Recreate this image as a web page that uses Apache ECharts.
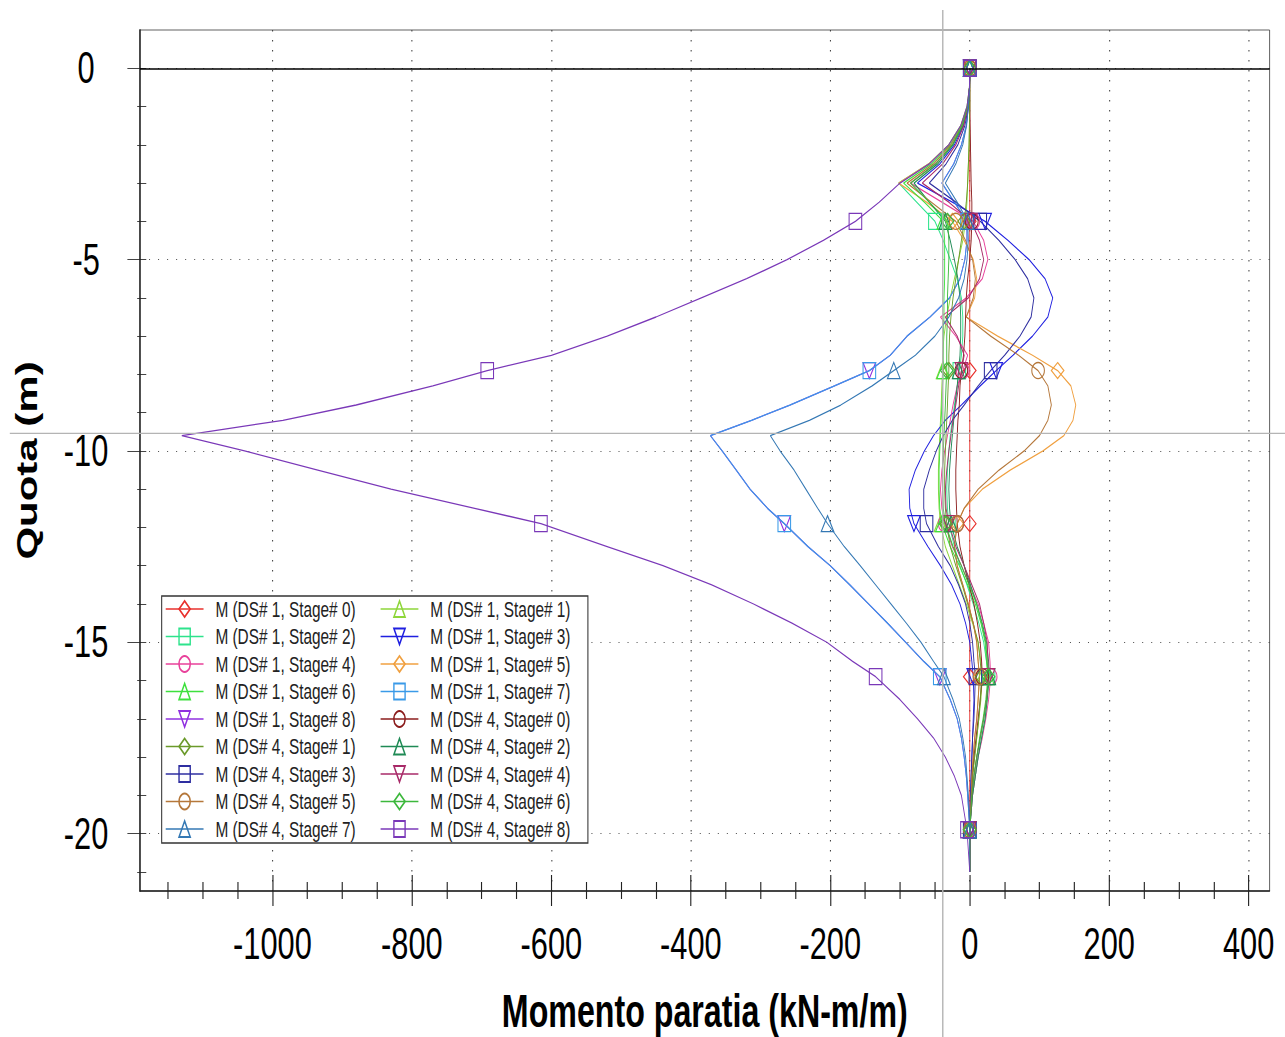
<!DOCTYPE html>
<html>
<head>
<meta charset="utf-8">
<title>Momento paratia</title>
<script src="https://cdn.jsdelivr.net/npm/echarts@6/dist/echarts.min.js"></script>
<style>
  html, body { margin: 0; padding: 0; background: #fff; overflow: hidden; }
  #wrap { width: 1285px; height: 1037px; overflow: hidden; }
  /* the reference picture is squeezed horizontally, so draw wide and squeeze */
  #chart { width: 1836px; height: 1037px; transform: scaleX(0.69989); transform-origin: 0 0; }
</style>
</head>
<body>
<div id="wrap"><div id="chart"></div></div>
<script>
// == Data ====================================================================

const depth = [0, -0.5, -1, -1.5, -2, -2.5, -3,
  -3.5, -4, -4.5, -5, -5.5, -6, -6.5, -7, -7.5,
  -7.9, -8.3, -8.8, -9.2, -9.6, -10, -10.5, -11, -11.5,
  -11.9, -12.5, -13, -13.5, -14, -14.5, -15, -15.5,
  -15.9, -16.5, -17, -17.5, -18, -18.5, -19, -19.9, -21]
const markerDepths = [0, -4, -7.9, -11.9, -15.9, -19.9]

const xMajor = [-1000, -800, -600, -400, -200, 0, 200, 400]
const yMajor = [0, -5, -10, -15, -20]
const cursor = [-38.7, -9.54]

const names = [
  'M (DS# 1, Stage# 0)', 'M (DS# 1, Stage# 1)', 'M (DS# 1, Stage# 2)', 'M (DS# 1, Stage# 3)',
  'M (DS# 1, Stage# 4)', 'M (DS# 1, Stage# 5)', 'M (DS# 1, Stage# 6)', 'M (DS# 1, Stage# 7)',
  'M (DS# 1, Stage# 8)', 'M (DS# 4, Stage# 0)', 'M (DS# 4, Stage# 1)', 'M (DS# 4, Stage# 2)',
  'M (DS# 4, Stage# 3)', 'M (DS# 4, Stage# 4)', 'M (DS# 4, Stage# 5)', 'M (DS# 4, Stage# 6)',
  'M (DS# 4, Stage# 7)', 'M (DS# 4, Stage# 8)'
]
const colors = [
  '#e8302c', '#8ed63a', '#2de38c', '#1f1fe0', '#e8409a', '#f0a040',
  '#3ee03e', '#3a9ae8', '#9030e0', '#8b1c1c', '#6b9a2a', '#1f8a55',
  '#2e2ea0', '#a82a68', '#b5773a', '#3cb83c', '#3478b4', '#7a38b8'
]

const ds1s0 = [0, 0, 0, 0, 0, 0, 0,
  0, 0, 0, 0, 0, 0, 0, 0, 0,
  0, 0, 0, 0, 0, 0, 0, 0, 0,
  0, 0, 0, 0, 0, 0, 0, 0,
  0, 0, 0, 0, 0, 0, 0, 0, 0]
const ds1s1 = [0, 0, 0, -0.5, -1, -2, -3,
  -4, -6, -10, -16, -22, -28, -33, -37, -39,
  -39, -40, -41, -42, -43, -44, -45, -45, -44,
  -42, -35, -25, -15, -5, 4, 12, 16,
  18, 16, 13, 10, 7, 4, 2, 0, 0]
const ds1s2 = [0, -0.5, -4, -13, -30, -59, -102,
  -76, -50, -38, -28, -18, -12, -10, -10, -12,
  -15, -18, -22, -25, -28, -30, -32, -33, -32,
  -30, -22, -14, -4, 5, 13, 20, 24,
  27, 25, 22, 17, 12, 8, 4, 0, 0]
const ds1s3 = [0, -0.3, -3, -9, -22, -43, -75,
  -25, 22, 55, 85, 108, 119, 112, 90, 62,
  38, 15, -12, -35, -52, -65, -78, -87, -86,
  -80, -60, -42, -26, -14, -6, 0, 3,
  5, 6, 5, 4, 3, 2, 1, 0, 0]
const ds1s4 = [0, -0.4, -3, -11, -25, -49, -85,
  -40, 5, 20, 26, 18, -5, -42, -20, -3,
  -10, -18, -24, -28, -32, -36, -40, -42, -40,
  -36, -25, -12, 0, 12, 20, 27, 29,
  30, 27, 23, 18, 12, 8, 4, 0, 0]
const ds1s5 = [0, -0.5, -4, -13, -30, -59, -102,
  -62, -25, -8, 5, 10, 7, -5, 40, 90,
  126, 145, 152, 148, 135, 105, 58, 18, -8,
  -18, -22, -18, -10, -2, 5, 10, 12,
  14, 12, 10, 7, 5, 3, 2, 0, 0]
const ds1s6 = [0, -0.4, -3.5, -12, -28, -55, -95,
  -65, -38, -36, -36, -36, -37, -37, -38, -38,
  -38, -39, -40, -41, -42, -43, -44, -44, -43,
  -40, -28, -15, -3, 8, 16, 22, 24,
  26, 23, 19, 14, 10, 6, 3, 0, 0]
const ds1s7 = [0, -0.2, -2, -5, -12, -23, -40,
  -22, -4, -4, -7, -14, -29, -57, -90, -114,
  -144, -194, -258, -313, -372, -355, -335, -315, -290,
  -266, -232, -200, -172, -145, -118, -92, -66,
  -43, -28, -18, -12, -8, -5, -3, 0, 0]
const ds1s8 = [0, -0.2, -2, -5, -12, -23, -40,
  -22, -4, -4, -7, -14, -29, -57, -90, -114,
  -144, -194, -258, -313, -372, -355, -335, -315, -290,
  -266, -232, -200, -172, -145, -118, -92, -66,
  -43, -28, -18, -12, -8, -5, -3, 0, 0]
const ds4s0 = [0, 0, 0, 0.5, 1, 1.5, 2,
  3, 3, 2, 0, -3, -5, -6, -7, -9,
  -12, -14, -15, -17, -18, -19, -20, -20, -19,
  -18, -14, -8, -1, 6, 11, 15, 17,
  18, 15, 12, 9, 6, 4, 2, 0, 0]
const ds4s1 = [0, 0, 0, -0.5, -1, -2, -3,
  -5, -8, -12, -16, -20, -24, -27, -29, -30,
  -30, -31, -32, -33, -34, -35, -36, -36, -35,
  -33, -28, -20, -11, -3, 5, 12, 15,
  17, 15, 13, 10, 7, 4, 2, 0, 0]
const ds4s2 = [0, -0.4, -3, -10, -24, -46, -80,
  -58, -35, -28, -22, -17, -14, -13, -13, -14,
  -16, -18, -21, -23, -25, -27, -29, -30, -29,
  -27, -18, -8, 1, 10, 18, 24, 27,
  28, 25, 22, 17, 12, 8, 4, 0, 0]
const ds4s3 = [0, -0.3, -2, -7, -17, -34, -58,
  -20, 15, 42, 65, 83, 92, 88, 72, 50,
  30, 12, -8, -25, -38, -48, -58, -66, -66,
  -62, -45, -28, -16, -6, 0, 4, 6,
  8, 7, 6, 4, 3, 2, 1, 0, 0]
const ds4s4 = [0, -0.3, -2.5, -8.5, -20, -39, -68,
  -30, 2, 14, 20, 14, -2, -35, -18, -8,
  -12, -16, -20, -24, -27, -30, -33, -35, -34,
  -30, -20, -8, 3, 14, 20, 25, 26,
  27, 24, 20, 15, 10, 6, 3, 0, 0]
const ds4s5 = [0, -0.4, -3, -11, -27, -52, -90,
  -55, -20, -6, 4, 8, 5, -5, 30, 70,
  98, 112, 117, 112, 100, 78, 42, 12, -8,
  -18, -22, -18, -10, -2, 5, 10, 12,
  14, 12, 10, 7, 5, 3, 2, 0, 0]
const ds4s6 = [0, -0.4, -3, -11, -25, -49, -85,
  -58, -32, -30, -30, -31, -32, -32, -33, -33,
  -33, -34, -35, -36, -37, -38, -39, -39, -38,
  -35, -24, -12, -1, 10, 17, 23, 25,
  27, 24, 20, 15, 10, 6, 3, 0, 0]
const ds4s7 = [0, -0.2, -2, -4.5, -10, -20, -35,
  -18, -3, -2, -4, -8, -16, -30, -50, -78,
  -109, -140, -185, -230, -286, -272, -252, -235, -218,
  -204, -180, -157, -135, -113, -91, -70, -52,
  -37, -24, -15, -10, -6, -4, -2, 0, 0]
const ds4s8 = [0, -0.5, -4, -13, -30, -58, -100,
  -130, -164, -210, -262, -320, -385, -450, -520, -600,
  -692, -770, -880, -985, -1130, -1040, -935, -830, -710,
  -615, -520, -440, -370, -310, -255, -205, -168,
  -135, -100, -75, -52, -35, -22, -12, -4, 0]

const values = [ds1s0, ds1s1, ds1s2, ds1s3, ds1s4, ds1s5, ds1s6, ds1s7, ds1s8,
  ds4s0, ds4s1, ds4s2, ds4s3, ds4s4, ds4s5, ds4s6, ds4s7, ds4s8]

// == Styling helpers ==========================================================

const FONT = 'Liberation Sans, Arial, sans-serif'
const DOWN_TRI = 'path://M0,0 L10,0 L5,10 Z'
const symbols = ['diamond', 'triangle', 'rect', DOWN_TRI, 'circle']

const xMinor = []
for (let v = -1150; v <= 400; v += 50) if (v % 200 !== 0) xMinor.push(v)
const yMinor = []
for (let v = -21; v <= 0; v += 1) if (v % 5 !== 0) yMinor.push(v)

function tickAxis (base, values, len, inside, width) {
  return Object.assign({}, base, {
    axisLine: {show: false, onZero: false},
    axisLabel: {show: false},
    splitLine: {show: false},
    axisTick: {show: true, inside, length: len, customValues: values,
      lineStyle: {color: '#222', width}}
  })
}

const xBase = {type: 'value', min: -1190, max: 430, position: 'bottom', gridIndex: 0}
const yBase = {type: 'value', min: -21.5, max: 1, position: 'left', gridIndex: 0}

const xAxes = [
  Object.assign({}, xBase, {
    name: 'Momento paratia (kN-m/m)',
    nameLocation: 'middle',
    nameGap: 97,
    nameTextStyle: {fontSize: 46, fontWeight: 'bold', color: '#000', fontFamily: FONT},
    axisLine: {show: true, onZero: false, lineStyle: {color: '#222', width: 1.5}},
    axisTick: {show: true, length: 15, customValues: xMajor, lineStyle: {color: '#222', width: 1.6}},
    axisLabel: {customValues: xMajor, fontSize: 44, color: '#000', margin: 31, fontFamily: FONT,
      formatter: (v) => String(v)},
    splitLine: {show: true, lineStyle: {color: '#333', width: 1.4, type: [1.5, 8.5]}}
  }),
  tickAxis(xBase, xMajor, 16, true, 1.6),
  tickAxis(xBase, xMinor, 8, false, 1.6),
  tickAxis(xBase, xMinor, 9, true, 1.6)
]

const yAxes = [
  Object.assign({}, yBase, {
    name: 'Quota (m)',
    nameLocation: 'middle',
    nameGap: 140,
    nameTextStyle: {fontSize: 42, fontWeight: 'bold', color: '#000', fontFamily: FONT},
    axisLine: {show: true, onZero: false, lineStyle: {color: '#222', width: 2}},
    axisTick: {show: true, length: 18, customValues: yMajor, lineStyle: {color: '#222', width: 1}},
    axisLabel: {customValues: yMajor, fontSize: 44, color: '#000', margin: 77, align: 'center', fontFamily: FONT,
      formatter: (v) => String(v)},
    splitLine: {show: true, lineStyle: {color: '#333', width: 1, type: [1.5, 11.4]}}
  }),
  tickAxis(yBase, yMajor, 9, true, 1),
  tickAxis(yBase, yMinor, 4, false, 1),
  tickAxis(yBase, yMinor, 9, true, 1)
]

const series = names.map((name, i) => ({
  name,
  type: 'line',
  xAxisIndex: 0,
  yAxisIndex: 0,
  z: i === 8 ? 1 : 2,
  data: depth.map((d, k) => [values[i][k], d]),
  symbol: symbols[i % 5],
  symbolSize: (v) => markerDepths.indexOf(v[1]) >= 0 ? [18, 16] : 0,
  lineStyle: {color: colors[i], width: 1.3},
  itemStyle: {color: 'rgba(0,0,0,0)', borderColor: colors[i], borderWidth: 1.4},
  emphasis: {disabled: true},
  markLine: i === 0 ? {
    silent: true,
    symbol: 'none',
    label: {show: false},
    lineStyle: {color: '#000', width: 1.5, type: 'solid'},
    data: [{yAxis: 0}]
  } : undefined
}))

const legendBase = {
  orient: 'vertical',
  top: 598,
  itemWidth: 54,
  itemHeight: 20,
  itemGap: 5.5,
  selectedMode: false,
  padding: 0,
  lineStyle: {width: 1.6},
  textStyle: {fontSize: 22, color: '#222', fontFamily: FONT, lineHeight: 18, padding: [0, 0, 0, 12]}
}

// == Chart ===================================================================

const chart = echarts.init(document.getElementById('chart'), null, {renderer: 'svg'})
chart.setOption({
  animation: false,
  backgroundColor: '#fff',
  grid: {left: 200, right: 22, top: 30, bottom: 146, outerBoundsMode: 'none',
    show: true, borderColor: '#444', borderWidth: 1},
  xAxis: xAxes,
  yAxis: yAxes,
  legend: [
    Object.assign({}, legendBase, {left: 236, data: names.filter((n, i) => i % 2 === 0)}),
    Object.assign({}, legendBase, {left: 543, data: names.filter((n, i) => i % 2 === 1)})
  ],
  graphic: [{
    id: 'legendBox',
    type: 'rect',
    z: 3,
    shape: {x: 231, y: 596, width: 609, height: 247},
    style: {fill: '#fff', stroke: '#333', lineWidth: 1.5}
  }],
  series
})

// cursor cross-hair left on the picture
const [cx, cy] = chart.convertToPixel({xAxisIndex: 0, yAxisIndex: 0}, cursor)
chart.setOption({
  graphic: [
    {id: 'cursorV', type: 'line', z: 10, silent: true,
      shape: {x1: cx, y1: 10, x2: cx, y2: 1037},
      style: {stroke: '#b4b4b4', lineWidth: 2}},
    {id: 'cursorH', type: 'line', z: 10, silent: true,
      shape: {x1: 14, y1: cy, x2: 1836, y2: cy},
      style: {stroke: '#b4b4b4', lineWidth: 1.4}}
  ]
})
</script>
</body>
</html>
